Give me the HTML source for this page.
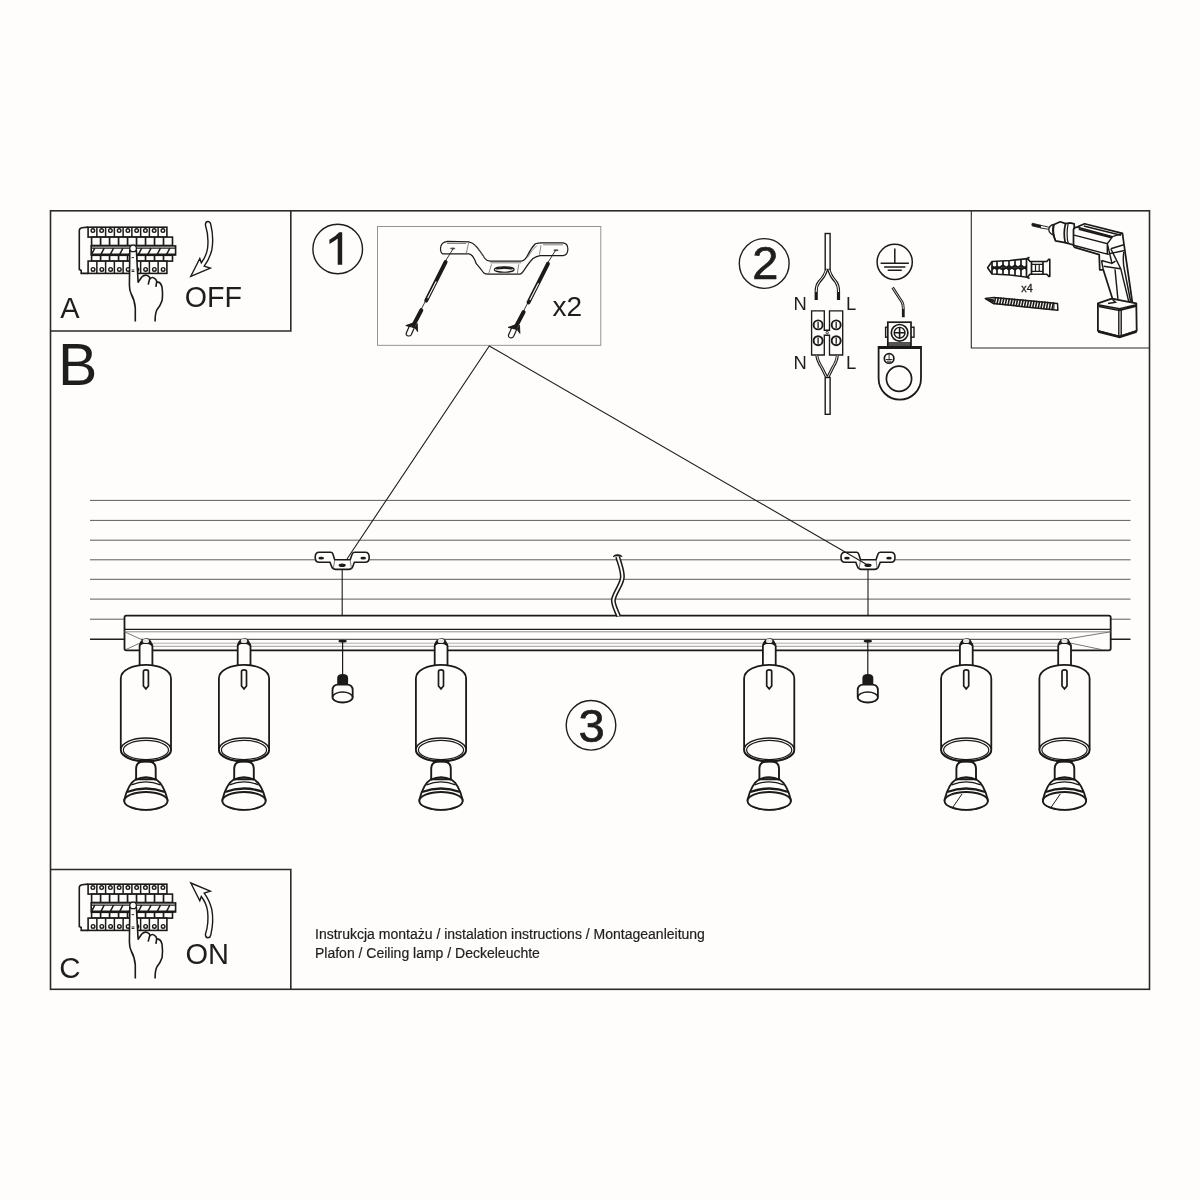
<!DOCTYPE html>
<html><head><meta charset="utf-8">
<style>
html,body{margin:0;padding:0;background:#fefdfc;}
svg{display:block;}
text{font-family:"Liberation Sans",sans-serif;fill:#1e1e1c;}
svg{will-change:transform;}
</style></head>
<body>
<svg width="1200" height="1200" viewBox="0 0 1200 1200">
<rect x="0" y="0" width="1200" height="1200" fill="#fefdfc"/>
<!-- frames -->
<g fill="none" stroke="#2a2a28" stroke-width="1.6">
  <rect x="50.5" y="210.8" width="1099" height="778.5"/>
  <polyline points="290.8,210.8 290.8,331 50.5,331"/>
  <polyline points="50.5,869.5 290.8,869.5 290.8,989.3"/>
</g>
<polyline points="971.3,210.8 971.3,348 1149.5,348" fill="none" stroke="#2a2a28" stroke-width="1.1"/>
<rect x="377.5" y="226.5" width="223.3" height="118.8" fill="none" stroke="#8a8a8a" stroke-width="0.9"/>

<!-- ceiling lines -->
<g stroke="#4a4a4a" stroke-width="0.9">
  <line x1="90" y1="500.4" x2="1130.5" y2="500.4"/>
  <line x1="90" y1="520.4" x2="1130.5" y2="520.4"/>
  <line x1="90" y1="540.2" x2="1130.5" y2="540.2"/>
  <line x1="90" y1="559.8" x2="1130.5" y2="559.8"/>
  <line x1="90" y1="579.3" x2="1130.5" y2="579.3"/>
  <line x1="90" y1="599.1" x2="1130.5" y2="599.1"/>
  <line x1="90" y1="619.2" x2="1130.5" y2="619.2"/>
</g>
<line x1="90" y1="639.3" x2="1130.5" y2="639.3" stroke="#1e1e1c" stroke-width="1.5"/>


<!-- defs -->
<defs>
<g id="spot">
  <!-- stem -->
  <path d="M-6.3,665 V646.5 Q-6.3,643.5 -4,643 H4.5 Q6.5,643.5 6.5,646.5 V665" fill="#fefdfc" stroke="#1a1a18" stroke-width="1.8"/>
  <!-- knob -->
  <path d="M-6.5,646 Q-7,640 -1,638.4 Q5,637.6 6.2,644 L6.5,646.5 Q3,643.3 0,643.8 Q-3,643.3 -6.5,646 Z" fill="#1a1a18"/>
  <ellipse cx="0" cy="640.9" rx="3.2" ry="2.2" fill="#e6e6e6"/>
  <!-- cylinder -->
  <path d="M-25.1,750 V678.5 C-25.1,670 -13,664.9 0,664.9 C13,664.9 25.1,670 25.1,678.5 V750" fill="#fefdfc" stroke="#1a1a18" stroke-width="1.8"/>
  <path d="M-25.1,750 A25.1,11.6 0 0 0 25.1,750" fill="#fefdfc" stroke="#1a1a18" stroke-width="1.8"/>
  <ellipse cx="0" cy="749.6" rx="25" ry="11.6" fill="#fefdfc" stroke="#1a1a18" stroke-width="1.6"/>
  <ellipse cx="0" cy="750" rx="22.6" ry="9.6" fill="#fefdfc" stroke="#1a1a18" stroke-width="1.2"/>
  <!-- slot -->
  <path d="M-2.5,671.6 Q-2.5,669.8 0,669.8 Q2.5,669.8 2.5,671.6 V686 L0,688.9 L-2.5,686 Z" fill="#fefdfc" stroke="#1a1a18" stroke-width="1.7"/>
  <!-- neck -->
  <path d="M-9.8,779 V769 Q-9.8,762.5 -4,761.5 H4 Q9.8,762.5 9.8,769 V779" fill="#fefdfc" stroke="#1a1a18" stroke-width="1.9"/>
  <path d="M-8,762.5 Q0,759.5 8,762.5" fill="none" stroke="#1a1a18" stroke-width="2.4"/>
  <!-- reflector -->
  <path d="M-10,779.3 Q-17.8,784 -21.7,800 A21.7,9.6 0 0 0 21.7,800 Q17.8,784 10,779.3 Z" fill="#fefdfc" stroke="#1a1a18" stroke-width="1.9"/>
  <path d="M-10.5,779.8 Q0,774.5 10.5,779.8" fill="none" stroke="#1a1a18" stroke-width="2.0"/>
  <path d="M-14.5,784.8 Q0,778.8 14.5,784.8" fill="none" stroke="#1a1a18" stroke-width="1.3"/>
  <path d="M-19,792 Q0,785 19,792" fill="none" stroke="#1a1a18" stroke-width="2.3"/>
  <ellipse cx="0" cy="800.9" rx="21.6" ry="8.9" fill="#fefdfc" stroke="#1a1a18" stroke-width="1.8"/>
</g>
<g id="bracket">
  <path d="M-23,552.2 H-11.5 Q-10,552.2 -9.3,554 L-7.5,559.8 H8 L10,554 Q10.8,552.2 12.5,552.2 H23 Q27,552.2 27,557.2 Q27,562.3 23,562.3 H12.2 L10.6,566.5 Q9.6,569.4 6.5,569.4 H-6.5 Q-9.6,569.4 -10.6,566.5 L-12.2,562.3 H-23 Q-27,562.3 -27,557.2 Q-27,552.2 -23,552.2 Z" fill="#fefdfc" stroke="#1a1a18" stroke-width="1.6"/>
  <path d="M-7.5,559.8 L-8.8,568.5 M8,559.8 L9.2,568.5" fill="none" stroke="#555" stroke-width="0.8"/>
  <ellipse cx="-21" cy="558.2" rx="2.8" ry="1.4" fill="#1a1a18"/>
  <ellipse cx="21" cy="558.2" rx="2.8" ry="1.4" fill="#1a1a18"/>
  <ellipse cx="0" cy="565.2" rx="3.6" ry="1.8" fill="#1a1a18"/>
</g>
<g id="screw">
  <ellipse cx="0" cy="641.2" rx="4.2" ry="1.4" fill="#1a1a18"/>
  <line x1="0" y1="641" x2="0" y2="675" stroke="#1a1a18" stroke-width="1.2"/>
  <path d="M-5.4,685.5 V678 Q-5.4,674 0,674 Q5.5,674 5.5,678 V685.5 Z" fill="#1a1a18"/>
  <path d="M-10.1,690.5 Q-10.1,684.7 -4.5,684.7 H4.5 Q10.1,684.7 10.1,690.5 V697.3 A10.1,5.2 0 0 1 -10.1,697.3 Z" fill="#fefdfc" stroke="#1a1a18" stroke-width="1.8"/>
  <path d="M-10,697.3 A10,5.2 0 0 1 10,697.3" fill="none" stroke="#1a1a18" stroke-width="1.5"/>
</g>
</defs>

<!-- rail -->
<rect x="124.5" y="615.6" width="986.2" height="34.8" rx="1.8" fill="#fefdfc" stroke="#1a1a18" stroke-width="1.8"/>
<line x1="124.5" y1="629.4" x2="1110.7" y2="629.4" stroke="#1a1a18" stroke-width="1.4"/>
<line x1="124.5" y1="631.8" x2="1110.7" y2="631.8" stroke="#777" stroke-width="0.8"/>
<line x1="141" y1="639.3" x2="1069" y2="639.3" stroke="#333" stroke-width="1.0"/>
<line x1="139" y1="643.2" x2="1058" y2="643.2" stroke="#999" stroke-width="0.8"/>
<line x1="139" y1="646.3" x2="1058" y2="646.3" stroke="#888" stroke-width="0.8"/>
<path d="M124.5,631.8 L141,639.3 M126,649.5 L139,643.5 M1110.7,631.8 L1069,638.7 M1101.5,649.6 L1071,643.2" fill="none" stroke="#555" stroke-width="0.8"/>

<!-- wire -->
<path d="M617.7,556.8 C619,562 622.6,570 622.4,577 C622.2,584 615,592 613.4,599.5 C612.6,604 616.2,610 618.5,616" fill="none" stroke="#1a1a18" stroke-width="5.0"/>
<path d="M617.7,556.8 C619,562 622.6,570 622.4,577 C622.2,584 615,592 613.4,599.5 C612.6,604 616.2,610 618.5,616" fill="none" stroke="#fefdfc" stroke-width="1.9"/>
<path d="M612.8,557.2 Q613.5,554 617.7,554.2 Q621.8,554.2 622.6,557.2 Q620,556.3 617.7,556.3 Q615,556.3 612.8,557.2 Z" fill="#1a1a18"/>

<!-- brackets -->
<use href="#bracket" transform="translate(342.2,0)"/>
<use href="#bracket" transform="translate(868,0)"/>
<line x1="342.2" y1="569" x2="342.2" y2="616" stroke="#1a1a18" stroke-width="1.1"/>
<line x1="868" y1="569" x2="868" y2="616" stroke="#1a1a18" stroke-width="1.1"/>

<!-- screws -->
<use href="#screw" transform="translate(342.6,0)"/>
<use href="#screw" transform="translate(867.8,0)"/>

<!-- spotlights -->
<use href="#spot" transform="translate(145.9,0)"/>
<use href="#spot" transform="translate(244,0)"/>
<use href="#spot" transform="translate(441,0)"/>
<use href="#spot" transform="translate(769.2,0)"/>
<use href="#spot" transform="translate(966.2,0)"/>
<line x1="953" y1="807" x2="962" y2="794" stroke="#1a1a18" stroke-width="1.0"/>
<use href="#spot" transform="translate(1064.5,0)"/>
<line x1="1051.3" y1="807" x2="1060.3" y2="794" stroke="#1a1a18" stroke-width="1.0"/>

<!-- diagonal lines -->
<polyline points="347,559 489.3,346 868,565.3" fill="none" stroke="#1e1e1c" stroke-width="1.1"/>

<!-- text -->
<text x="60.3" y="318.3" font-size="29">A</text>
<text x="58" y="384.8" font-size="59">B</text>
<text x="59.2" y="977.6" font-size="29.5">C</text>
<text x="184.8" y="307.2" font-size="28.6">OFF</text>
<text x="185.4" y="964.3" font-size="29">ON</text>
<g font-size="14" fill="#222" stroke="#222" stroke-width="0.2">
<text x="315" y="938.9">Instrukcja montażu / instalation instructions / Montageanleitung</text>
<text x="315" y="957.8">Plafon / Ceiling lamp / Deckeleuchte</text>
</g>

<!-- numbered circles -->
<g fill="none" stroke="#1e1e1c" stroke-width="1.4">
  <circle cx="337.7" cy="249" r="24.8"/>
  <circle cx="764.2" cy="263.5" r="24.9"/>
  <circle cx="591" cy="725.3" r="24.8"/>
</g>
<path d="M342.2,232.3 L342.2,264.7 L337.7,264.7 L337.7,238.6 Q334.5,241.4 329.4,243.9 L329.4,239.8 Q335.5,236.6 339.2,232.3 Z" fill="#1e1e1c"/>
<g font-size="47" text-anchor="middle" stroke="#1e1e1c" stroke-width="0.7">
  <text x="765.2" y="279">2</text>
  <text x="591.5" y="741.6">3</text>
</g>
<text x="552.5" y="315.5" font-size="28">x2</text>
<!--ICONS-->
<g id="panelA"><path d="M88.1,227.1 L82,227.7 Q79.3,228.3 79.3,230.5 V269.5 L81.2,270.5 V273.4 H88.1" fill="#fefdfc" stroke="#1a1a18" stroke-width="1.6"/>
<rect x="88.1" y="227.2" width="78.8" height="9.9" fill="#fefdfc" stroke="#1a1a18" stroke-width="1.6"/>
<line x1="96.86" y1="227.2" x2="96.86" y2="237.1" stroke="#1a1a18" stroke-width="1.5"/>
<line x1="105.61" y1="227.2" x2="105.61" y2="237.1" stroke="#1a1a18" stroke-width="1.5"/>
<line x1="114.37" y1="227.2" x2="114.37" y2="237.1" stroke="#1a1a18" stroke-width="1.5"/>
<line x1="123.12" y1="227.2" x2="123.12" y2="237.1" stroke="#1a1a18" stroke-width="1.5"/>
<line x1="131.88" y1="227.2" x2="131.88" y2="237.1" stroke="#1a1a18" stroke-width="1.5"/>
<line x1="140.63" y1="227.2" x2="140.63" y2="237.1" stroke="#1a1a18" stroke-width="1.5"/>
<line x1="149.39" y1="227.2" x2="149.39" y2="237.1" stroke="#1a1a18" stroke-width="1.5"/>
<line x1="158.14" y1="227.2" x2="158.14" y2="237.1" stroke="#1a1a18" stroke-width="1.5"/>
<circle cx="92.88" cy="230.6" r="1.8" fill="#fefdfc" stroke="#1a1a18" stroke-width="1.4"/>
<circle cx="101.63" cy="230.6" r="1.8" fill="#fefdfc" stroke="#1a1a18" stroke-width="1.4"/>
<circle cx="110.39" cy="230.6" r="1.8" fill="#fefdfc" stroke="#1a1a18" stroke-width="1.4"/>
<circle cx="119.14" cy="230.6" r="1.8" fill="#fefdfc" stroke="#1a1a18" stroke-width="1.4"/>
<circle cx="127.9" cy="230.6" r="1.8" fill="#fefdfc" stroke="#1a1a18" stroke-width="1.4"/>
<circle cx="136.66" cy="230.6" r="1.8" fill="#fefdfc" stroke="#1a1a18" stroke-width="1.4"/>
<circle cx="145.41" cy="230.6" r="1.8" fill="#fefdfc" stroke="#1a1a18" stroke-width="1.4"/>
<circle cx="154.17" cy="230.6" r="1.8" fill="#fefdfc" stroke="#1a1a18" stroke-width="1.4"/>
<circle cx="162.92" cy="230.6" r="1.8" fill="#fefdfc" stroke="#1a1a18" stroke-width="1.4"/>
<rect x="91.6" y="237.1" width="80.9" height="8.4" fill="#fefdfc" stroke="#1a1a18" stroke-width="1.6"/>
<line x1="100.59" y1="237.1" x2="100.59" y2="245.5" stroke="#1a1a18" stroke-width="1.7"/>
<line x1="109.58" y1="237.1" x2="109.58" y2="245.5" stroke="#1a1a18" stroke-width="1.7"/>
<line x1="118.57" y1="237.1" x2="118.57" y2="245.5" stroke="#1a1a18" stroke-width="1.7"/>
<line x1="127.56" y1="237.1" x2="127.56" y2="245.5" stroke="#1a1a18" stroke-width="1.7"/>
<line x1="136.54" y1="237.1" x2="136.54" y2="245.5" stroke="#1a1a18" stroke-width="1.7"/>
<line x1="145.53" y1="237.1" x2="145.53" y2="245.5" stroke="#1a1a18" stroke-width="1.7"/>
<line x1="154.52" y1="237.1" x2="154.52" y2="245.5" stroke="#1a1a18" stroke-width="1.7"/>
<line x1="163.51" y1="237.1" x2="163.51" y2="245.5" stroke="#1a1a18" stroke-width="1.7"/>
<rect x="91.2" y="245.9" width="84.4" height="9.0" fill="#fefdfc" stroke="#1a1a18" stroke-width="1.6"/>
<line x1="91.2" y1="248.2" x2="175.6" y2="248.2" stroke="#1a1a18" stroke-width="1.2"/>
<line x1="91.2" y1="254.5" x2="175.6" y2="254.5" stroke="#1a1a18" stroke-width="2.2"/>
<line x1="94.8" y1="248.2" x2="91.6" y2="254.3" stroke="#1a1a18" stroke-width="1.5"/>
<line x1="104.18" y1="248.2" x2="100.98" y2="254.3" stroke="#1a1a18" stroke-width="1.5"/>
<line x1="113.56" y1="248.2" x2="110.36" y2="254.3" stroke="#1a1a18" stroke-width="1.5"/>
<line x1="122.93" y1="248.2" x2="119.73" y2="254.3" stroke="#1a1a18" stroke-width="1.5"/>
<line x1="132.31" y1="248.2" x2="129.11" y2="254.3" stroke="#1a1a18" stroke-width="1.5"/>
<line x1="141.69" y1="248.2" x2="138.49" y2="254.3" stroke="#1a1a18" stroke-width="1.5"/>
<line x1="151.07" y1="248.2" x2="147.87" y2="254.3" stroke="#1a1a18" stroke-width="1.5"/>
<line x1="160.44" y1="248.2" x2="157.24" y2="254.3" stroke="#1a1a18" stroke-width="1.5"/>
<line x1="169.82" y1="248.2" x2="166.62" y2="254.3" stroke="#1a1a18" stroke-width="1.5"/>
<rect x="91.6" y="255.3" width="80.9" height="5.8" fill="#fefdfc" stroke="#1a1a18" stroke-width="1.6"/>
<line x1="100.59" y1="255.3" x2="100.59" y2="261.1" stroke="#1a1a18" stroke-width="1.7"/>
<line x1="109.58" y1="255.3" x2="109.58" y2="261.1" stroke="#1a1a18" stroke-width="1.7"/>
<line x1="118.57" y1="255.3" x2="118.57" y2="261.1" stroke="#1a1a18" stroke-width="1.7"/>
<line x1="127.56" y1="255.3" x2="127.56" y2="261.1" stroke="#1a1a18" stroke-width="1.7"/>
<line x1="136.54" y1="255.3" x2="136.54" y2="261.1" stroke="#1a1a18" stroke-width="1.7"/>
<line x1="145.53" y1="255.3" x2="145.53" y2="261.1" stroke="#1a1a18" stroke-width="1.7"/>
<line x1="154.52" y1="255.3" x2="154.52" y2="261.1" stroke="#1a1a18" stroke-width="1.7"/>
<line x1="163.51" y1="255.3" x2="163.51" y2="261.1" stroke="#1a1a18" stroke-width="1.7"/>
<rect x="88.1" y="261.1" width="78.8" height="12.3" fill="#fefdfc" stroke="#1a1a18" stroke-width="1.6"/>
<line x1="96.86" y1="261.1" x2="96.86" y2="273.4" stroke="#1a1a18" stroke-width="1.5"/>
<line x1="105.61" y1="261.1" x2="105.61" y2="273.4" stroke="#1a1a18" stroke-width="1.5"/>
<line x1="114.37" y1="261.1" x2="114.37" y2="273.4" stroke="#1a1a18" stroke-width="1.5"/>
<line x1="123.12" y1="261.1" x2="123.12" y2="273.4" stroke="#1a1a18" stroke-width="1.5"/>
<line x1="131.88" y1="261.1" x2="131.88" y2="273.4" stroke="#1a1a18" stroke-width="1.5"/>
<line x1="140.63" y1="261.1" x2="140.63" y2="273.4" stroke="#1a1a18" stroke-width="1.5"/>
<line x1="149.39" y1="261.1" x2="149.39" y2="273.4" stroke="#1a1a18" stroke-width="1.5"/>
<line x1="158.14" y1="261.1" x2="158.14" y2="273.4" stroke="#1a1a18" stroke-width="1.5"/>
<circle cx="93.08" cy="269.4" r="1.8" fill="#fefdfc" stroke="#1a1a18" stroke-width="1.4"/>
<circle cx="101.83" cy="269.4" r="1.8" fill="#fefdfc" stroke="#1a1a18" stroke-width="1.4"/>
<circle cx="110.59" cy="269.4" r="1.8" fill="#fefdfc" stroke="#1a1a18" stroke-width="1.4"/>
<circle cx="119.34" cy="269.4" r="1.8" fill="#fefdfc" stroke="#1a1a18" stroke-width="1.4"/>
<circle cx="128.1" cy="269.4" r="1.8" fill="#fefdfc" stroke="#1a1a18" stroke-width="1.4"/>
<circle cx="136.86" cy="269.4" r="1.8" fill="#fefdfc" stroke="#1a1a18" stroke-width="1.4"/>
<circle cx="145.61" cy="269.4" r="1.8" fill="#fefdfc" stroke="#1a1a18" stroke-width="1.4"/>
<circle cx="154.37" cy="269.4" r="1.8" fill="#fefdfc" stroke="#1a1a18" stroke-width="1.4"/>
<circle cx="163.12" cy="269.4" r="1.8" fill="#fefdfc" stroke="#1a1a18" stroke-width="1.4"/>
<path d="M135.3,321.5 L135.3,308 Q134.6,300 131.2,294 Q129.4,290 129.4,285 L129.8,250.5 A3.4,3.4 0 0 1 136.4,250.5 L138.1,282.3 L141.8,277 Q145.5,273.2 149.2,276.8 Q150,278 149.8,279 Q152.5,275.8 155.8,279.5 Q156.8,281 156.7,282.2 Q160.5,281.5 162,287 Q163,294 162.1,300.5 Q160.5,305.5 156.8,310 Q155,314 155.1,321.5 Z" fill="#fefdfc" stroke="none"/>
<path d="M135.3,321.5 L135.3,308 Q134.6,300 131.2,294 Q129.4,290 129.4,285 L129.8,250.5 A3.4,3.4 0 0 1 136.4,250.5 L138.1,282.3 L141.8,277 Q145.5,273.2 149.2,276.8 Q150,278 149.8,279 Q152.5,275.8 155.8,279.5 Q156.8,281 156.7,282.2 Q160.5,281.5 162,287 Q163,294 162.1,300.5 Q160.5,305.5 156.8,310 Q155,314 155.1,321.5" fill="none" stroke="#1a1a18" stroke-width="1.6" stroke-linejoin="round"/>
<path d="M149.6,279 L148.2,284.6 M156.6,282.3 L155.9,286.8" fill="none" stroke="#1a1a18" stroke-width="1.6"/>
<circle cx="133.1" cy="248.4" r="3.3" fill="#fefdfc" stroke="#1a1a18" stroke-width="1.3"/>
<path d="M131.5,257.6 H134 M131.6,270 H134.4 M131.6,271.5 H134.4" stroke="#1a1a18" stroke-width="0.9"/></g>
<use href="#panelA" transform="translate(0,657)"/>
<g id="arrA"><path d="M205.4,225 Q205.5,221.5 207.8,221.5 Q210.2,221.5 210.8,224.5 Q214,238 211.8,250 Q209.5,259 204.2,266.2 L210.3,268.1 L190.8,276.3 L199.8,258.5 L201.3,262.8 Q206.5,256 207.6,248 Q209,236 205.4,225 Z" fill="#fefdfc" stroke="#1a1a18" stroke-width="1.4" stroke-linejoin="miter"/></g>
<use href="#arrA" transform="translate(0,1159.3) scale(1,-1)"/>
<g><path d="M447.5,241.3 L468.8,241.9 Q472.5,242.5 476.3,246.3 Q481,252 485,258.7 Q487,261.1 490.3,261.1 H521.2 Q525,261 527.5,255.6 Q531,248 535.4,243.7 Q538,242.9 541.8,242.9 H563.1 Q567.9,243.5 567.9,249.3 Q567.5,255.4 563.1,255.6 H540.2 Q536.5,256 533,258.5 Q529.5,262 524.3,269.8 Q521.5,274 519.6,274.2 H488 Q485.5,274.2 483.8,273 Q480,268 476.3,263.7 Q473,254 468.8,253.8 H442.5 Q440.5,253 440.5,248 Q441,242 447.5,241.3 Z" fill="#fefdfc" stroke="#1a1a18" stroke-width="1.2"/>
<path d="M490.3,262.8 H521.2 M491.5,264.3 L488.7,273.8 M518.8,264.3 L517.2,273.8 M541,245.3 L539.4,254.8 M468.8,241.9 L466.2,253.8 M474.5,245 Q480,251 486,260 M527.5,257.5 Q531.5,250 537,245.5 M543,244.8 H563 M447,243.5 H466" fill="none" stroke="#666" stroke-width="0.8"/>
<ellipse cx="504.2" cy="269.5" rx="9.9" ry="2.75" fill="#fefdfc" stroke="#1a1a18" stroke-width="1.2"/>
<path d="M496,269 Q504,265.8 512.5,269 Q504,268 496,269 Z" fill="#1a1a18" stroke="#1a1a18" stroke-width="1.2"/>
<ellipse cx="452.7" cy="248.6" rx="2.6" ry="1.0" fill="#555"/>
<ellipse cx="556" cy="250.3" rx="2.6" ry="1.0" fill="#555"/>
<g><line x1="453.3" y1="248.5" x2="444.5" y2="262.5" stroke="#1a1a18" stroke-width="0.9"/>
<line x1="445.6" y1="262" x2="426.2" y2="300.6" stroke="#1a1a18" stroke-width="3.9" stroke-linecap="round"/>
<line x1="436.2" y1="281.5" x2="427.6" y2="298.3" stroke="#fefdfc" stroke-width="1.1"/>
<line x1="425.8" y1="300.5" x2="420.8" y2="310" stroke="#1a1a18" stroke-width="0.9"/>
<line x1="421.3" y1="310.2" x2="413.3" y2="325.5" stroke="#1a1a18" stroke-width="4.0" stroke-linecap="round"/>
<path d="M414.5,322.5 L405.8,325.6 L410.2,326.8 Z M417.2,323.5 L417.6,331.6 L414.8,327.5 Z" fill="#1a1a18" stroke="#1a1a18" stroke-width="0.9" stroke-linejoin="round"/>
<path d="M409.3,326.2 L406.2,333.2 Q405.9,335.8 408.4,336 Q410.5,336.2 411.4,334.4 L414.4,327.6 Z" fill="#fefdfc" stroke="#1a1a18" stroke-width="1.2"/></g>
<g transform="translate(102.3,1.8)"><line x1="453.3" y1="248.5" x2="444.5" y2="262.5" stroke="#1a1a18" stroke-width="0.9"/>
<line x1="445.6" y1="262" x2="426.2" y2="300.6" stroke="#1a1a18" stroke-width="3.9" stroke-linecap="round"/>
<line x1="436.2" y1="281.5" x2="427.6" y2="298.3" stroke="#fefdfc" stroke-width="1.1"/>
<line x1="425.8" y1="300.5" x2="420.8" y2="310" stroke="#1a1a18" stroke-width="0.9"/>
<line x1="421.3" y1="310.2" x2="413.3" y2="325.5" stroke="#1a1a18" stroke-width="4.0" stroke-linecap="round"/>
<path d="M414.5,322.5 L405.8,325.6 L410.2,326.8 Z M417.2,323.5 L417.6,331.6 L414.8,327.5 Z" fill="#1a1a18" stroke="#1a1a18" stroke-width="0.9" stroke-linejoin="round"/>
<path d="M409.3,326.2 L406.2,333.2 Q405.9,335.8 408.4,336 Q410.5,336.2 411.4,334.4 L414.4,327.6 Z" fill="#fefdfc" stroke="#1a1a18" stroke-width="1.2"/></g></g>
<g><rect x="825.2" y="233.5" width="4.9" height="36" fill="#fefdfc" stroke="#1a1a18" stroke-width="1.4"/>
<path d="M826.5,269.5 Q825,276 819,282 Q816.2,285.5 816.2,291 V300 M828.8,269.5 Q830.5,276 836,282 Q838.5,285.5 838.5,291 V300" fill="none" stroke="#1a1a18" stroke-width="3.2"/>
<path d="M826.5,269.5 Q825,276 819,282 Q816.2,285.5 816.2,291 V292 M828.8,269.5 Q830.5,276 836,282 Q838.5,285.5 838.5,291 V292" fill="none" stroke="#fefdfc" stroke-width="1.0"/>
<path d="M811.6,310.9 H824.3 V330.2 H829.5 V310.9 H842.7 V355 H829.5 V335.2 H824.3 V355 H811.6 Z" fill="#fefdfc" stroke="#1a1a18" stroke-width="1.35"/>
<circle cx="827.2" cy="332.6" r="1.2" fill="#fefdfc" stroke="#1a1a18" stroke-width="0.9"/>
<circle cx="818.1" cy="324.9" r="4.5" fill="#fefdfc" stroke="#1a1a18" stroke-width="1.9"/>
<line x1="818.1" y1="321.9" x2="818.1" y2="327.9" stroke="#1a1a18" stroke-width="1.3"/>
<circle cx="818.1" cy="340.7" r="4.5" fill="#fefdfc" stroke="#1a1a18" stroke-width="1.9"/>
<line x1="818.1" y1="337.7" x2="818.1" y2="343.7" stroke="#1a1a18" stroke-width="1.3"/>
<circle cx="836.2" cy="324.9" r="4.5" fill="#fefdfc" stroke="#1a1a18" stroke-width="1.9"/>
<line x1="836.2" y1="321.9" x2="836.2" y2="327.9" stroke="#1a1a18" stroke-width="1.3"/>
<circle cx="836.2" cy="340.7" r="4.5" fill="#fefdfc" stroke="#1a1a18" stroke-width="1.9"/>
<line x1="836.2" y1="337.7" x2="836.2" y2="343.7" stroke="#1a1a18" stroke-width="1.3"/>
<path d="M816.8,355.5 Q817.5,361 822,368 L826.5,377 M837.3,355.5 Q837,361 832.5,368 L828,377" fill="none" stroke="#1a1a18" stroke-width="3.0"/>
<path d="M816.8,355.5 Q817.5,361 822,368 L826.5,377 M837.3,355.5 Q837,361 832.5,368 L828,377" fill="none" stroke="#fefdfc" stroke-width="0.9"/>
<rect x="825.2" y="377.5" width="4.9" height="36.8" fill="#fefdfc" stroke="#1a1a18" stroke-width="1.4"/>
<text x="793.6" y="310.4" font-size="18.4">N</text>
<text x="846" y="310.4" font-size="18.4">L</text>
<text x="793.6" y="368.9" font-size="18.4">N</text>
<text x="846" y="368.9" font-size="18.4">L</text>
<circle cx="894.7" cy="261.9" r="17.6" fill="none" stroke="#1a1a18" stroke-width="1.5"/>
<path d="M894.8,248.5 V263.3 M880.6,263.3 H908.9 M884.1,266.9 H905.4 M887.7,270.2 H901.8" fill="none" stroke="#1a1a18" stroke-width="1.5"/>
<path d="M892.6,287.5 Q898,296 902,302 Q903.3,304.5 903.3,308 V317.2" fill="none" stroke="#1a1a18" stroke-width="2.8"/>
<path d="M892.6,287.5 Q898,296 902,302 Q903.3,304.5 903.3,308 V309" fill="none" stroke="#fefdfc" stroke-width="0.8"/>
<rect x="885.6" y="327.2" width="28.4" height="10" fill="#fefdfc" stroke="#1a1a18" stroke-width="1.4"/>
<rect x="887.8" y="322.2" width="23.2" height="24.8" fill="#fefdfc" stroke="#1a1a18" stroke-width="1.7"/>
<rect x="887.8" y="342" width="23.2" height="5" fill="#1a1a18" opacity="0.75"/>
<circle cx="899.6" cy="332.8" r="8.3" fill="#fefdfc" stroke="#1a1a18" stroke-width="1.7"/>
<circle cx="899.6" cy="332.8" r="5.4" fill="#fefdfc" stroke="#1a1a18" stroke-width="1.4"/>
<path d="M899.6,327.4 V338.2 M894.2,332.8 H905" stroke="#1a1a18" stroke-width="1.6"/>
<path d="M878.6,347 H921 V378.5 A21.2,21.2 0 0 1 878.6,378.5 Z" fill="#fefdfc" stroke="#1a1a18" stroke-width="1.8"/>
<line x1="878.6" y1="347.6" x2="921" y2="347.6" stroke="#1a1a18" stroke-width="2.6"/>
<circle cx="899" cy="378.8" r="12.6" fill="#fefdfc" stroke="#1a1a18" stroke-width="1.7"/>
<circle cx="889.1" cy="358.4" r="4.8" fill="#fefdfc" stroke="#1a1a18" stroke-width="1.7"/>
<path d="M889.1,354.5 V359.5 M885.8,359.5 H892.4 M886.8,361.2 H891.4" stroke="#1a1a18" stroke-width="0.9"/></g>
<g><path d="M987.6,267.7 L992,261.5 L1010,260.5 L1027.5,258.6 L1030,261.5 H1046.8 L1048.8,259.2 H1049.8 V276.4 H1048.8 L1046.8,274.2 H1030 L1027.5,277.3 L1010,275 L992,274 Z" fill="#fefdfc" stroke="#1a1a18" stroke-width="1.6" stroke-linejoin="round"/>
<path d="M992,261.8 V274 M997,261.5 V274.5 M1003,261 V275 M1009,260.8 V275 M1015,260.2 V275.8 M1021,259.6 V276.2 M1026.5,259 V277 M1031.5,261.5 V274.2 M1043,261.5 V274.2" stroke="#1a1a18" stroke-width="1.7"/>
<path d="M992,266.5 L997,269 L1003,265.5 L1009,269.5 L1015,265.5 L1021,269.5 L1026.5,266.5 M992,269 L997,266.5 L1003,269.5 L1009,265.8 L1015,269.5 L1021,265.5 L1026.5,269" fill="none" stroke="#1a1a18" stroke-width="2.0"/>
<path d="M1031.5,264.3 H1043 M1031.5,271.4 H1043 M1035.5,264.3 V271.4 M1039.2,264.3 V271.4" fill="none" stroke="#1a1a18" stroke-width="1.2"/>
<path d="M1026.5,259 L1029.5,257.2 M1026.5,277 L1029.5,278.5" stroke="#1a1a18" stroke-width="1.6"/>
<text x="1021.3" y="292" font-size="10.8" stroke="#1e1e1c" stroke-width="0.3">x4</text>
<path d="M985.3,298.5 L994,297.6 L1057.5,303.4 L1057.9,310.2 L993.5,303.6 Z" fill="#fefdfc" stroke="#1a1a18" stroke-width="1.5" stroke-linejoin="round"/>
<path d="M985.5,298.6 L994,299.2 L993.7,303 Z" fill="#1a1a18"/>
<line x1="995.7" y1="297.05" x2="994.1" y2="304.3" stroke="#1a1a18" stroke-width="1.6"/>
<line x1="998.45" y1="297.29" x2="996.85" y2="304.58" stroke="#1a1a18" stroke-width="1.6"/>
<line x1="1001.2" y1="297.54" x2="999.6" y2="304.85" stroke="#1a1a18" stroke-width="1.6"/>
<line x1="1003.95" y1="297.79" x2="1002.35" y2="305.13" stroke="#1a1a18" stroke-width="1.6"/>
<line x1="1006.7" y1="298.04" x2="1005.1" y2="305.4" stroke="#1a1a18" stroke-width="1.6"/>
<line x1="1009.45" y1="298.29" x2="1007.85" y2="305.68" stroke="#1a1a18" stroke-width="1.6"/>
<line x1="1012.2" y1="298.54" x2="1010.6" y2="305.96" stroke="#1a1a18" stroke-width="1.6"/>
<line x1="1014.95" y1="298.79" x2="1013.35" y2="306.23" stroke="#1a1a18" stroke-width="1.6"/>
<line x1="1017.7" y1="299.04" x2="1016.1" y2="306.51" stroke="#1a1a18" stroke-width="1.6"/>
<line x1="1020.45" y1="299.29" x2="1018.85" y2="306.79" stroke="#1a1a18" stroke-width="1.6"/>
<line x1="1023.2" y1="299.54" x2="1021.6" y2="307.06" stroke="#1a1a18" stroke-width="1.6"/>
<line x1="1025.95" y1="299.79" x2="1024.35" y2="307.34" stroke="#1a1a18" stroke-width="1.6"/>
<line x1="1028.7" y1="300.04" x2="1027.1" y2="307.61" stroke="#1a1a18" stroke-width="1.6"/>
<line x1="1031.45" y1="300.28" x2="1029.85" y2="307.89" stroke="#1a1a18" stroke-width="1.6"/>
<line x1="1034.2" y1="300.53" x2="1032.6" y2="308.17" stroke="#1a1a18" stroke-width="1.6"/>
<line x1="1036.95" y1="300.78" x2="1035.35" y2="308.44" stroke="#1a1a18" stroke-width="1.6"/>
<line x1="1039.7" y1="301.03" x2="1038.1" y2="308.72" stroke="#1a1a18" stroke-width="1.6"/>
<line x1="1042.45" y1="301.28" x2="1040.85" y2="308.99" stroke="#1a1a18" stroke-width="1.6"/>
<line x1="1045.2" y1="301.53" x2="1043.6" y2="309.27" stroke="#1a1a18" stroke-width="1.6"/>
<line x1="1047.95" y1="301.78" x2="1046.35" y2="309.55" stroke="#1a1a18" stroke-width="1.6"/>
<line x1="1050.7" y1="302.03" x2="1049.1" y2="309.82" stroke="#1a1a18" stroke-width="1.6"/>
<line x1="1053.45" y1="302.28" x2="1051.85" y2="310.1" stroke="#1a1a18" stroke-width="1.6"/>
<line x1="1054" y1="303.8" x2="1053.8" y2="309.7" stroke="#1a1a18" stroke-width="1.1"/>
<path d="M1032.3,223.2 L1041,225.3 L1041,228 L1032.3,226 Q1031.3,224.6 1032.3,223.2 Z" fill="#1a1a18" stroke="#1a1a18" stroke-width="0.8"/>
<path d="M1040.5,225.3 L1049.5,227.3 L1049.5,229.4 L1040.5,228 Z" fill="#fefdfc" stroke="#1a1a18" stroke-width="0.9"/>
<path d="M1053.5,224.5 Q1049.3,225.5 1048.8,229.5 Q1049,233.5 1053.8,235.2" fill="#fefdfc" stroke="#1a1a18" stroke-width="1.3"/>
<path d="M1053.5,224.8 L1060.2,221.8 L1065.6,223.6 Q1067.5,233 1065.3,242.6 L1055.5,240.8 Q1051.5,232.5 1053.5,224.8 Z" fill="#fefdfc" stroke="#1a1a18" stroke-width="1.7" stroke-linejoin="round"/>
<path d="M1054.2,225 Q1052.5,232.5 1055.5,240.5" fill="none" stroke="#1a1a18" stroke-width="1.1"/>
<path d="M1065.6,223.6 L1070.3,222.9 L1074.2,223.8 L1074.4,245.3 L1065.3,242.6 Q1063,233 1065.6,223.6 Z" fill="#fefdfc" stroke="#1a1a18" stroke-width="1.7" stroke-linejoin="round"/>
<path d="M1068.2,223.3 Q1066,234 1068.2,243.5" fill="none" stroke="#1a1a18" stroke-width="1.2"/>
<path d="M1073.5,229.5 Q1074,227.3 1077.6,226.8 L1084.6,223.75 L1122.5,233.4 L1122.8,236 L1124.8,250 L1132.6,304.2 L1112.5,298.8 L1103.3,269.8 L1099.75,269.8 L1099.2,254.6 L1074.7,247.4 Q1073.4,246.5 1073.5,245 Z" fill="#fefdfc" stroke="#1a1a18" stroke-width="1.75" stroke-linejoin="round"/>
<path d="M1077.6,227.3 L1112.6,236.6 L1122.5,233.4 M1078.8,229.2 L1111.5,237.8 M1083.8,226 L1121,235.2 M1074.1,235.1 L1107.3,243.6 L1112.6,236.6 M1073.5,245.3 L1107.3,254.1 V243.6 M1107.3,254.1 L1124.6,250.5 M1110.8,248.8 L1123.7,244.75 M1107.3,243.6 L1112,263.4 L1115.5,261.1 M1101.5,260.5 L1112,263.4 M1103.8,266.3 L1120.2,268.7 M1110.8,248.8 L1120.75,268.7 L1129.2,303.3 M1115,269.2 L1118.3,303.3 M1123.8,252 Q1122.5,262 1124.5,270 L1131,303.5 M1101.5,260.5 L1103.3,269.8" fill="none" stroke="#1a1a18" stroke-width="1.45"/>
<path d="M1097.9,303.3 L1111.7,298.6 L1136.3,303.3 L1136.7,330.8 L1119.6,336.7 L1097.9,330.8 Z" fill="#fefdfc" stroke="#1a1a18" stroke-width="1.8" stroke-linejoin="round"/>
<path d="M1098.2,331.5 L1119.6,337 L1136.5,331.5" fill="none" stroke="#1a1a18" stroke-width="2.6"/>
<path d="M1097.9,304.8 L1119.6,308.7 L1136.3,304.8 M1118.8,308.3 V336.3 M1121.2,308 V336 M1098.8,306.5 L1119.5,310.5 L1136,306.2 M1112.5,299.5 L1115.5,302.3 L1108,303.5" fill="none" stroke="#1a1a18" stroke-width="1.4"/></g>
<!--/ICONS-->
</svg>
</body></html>
